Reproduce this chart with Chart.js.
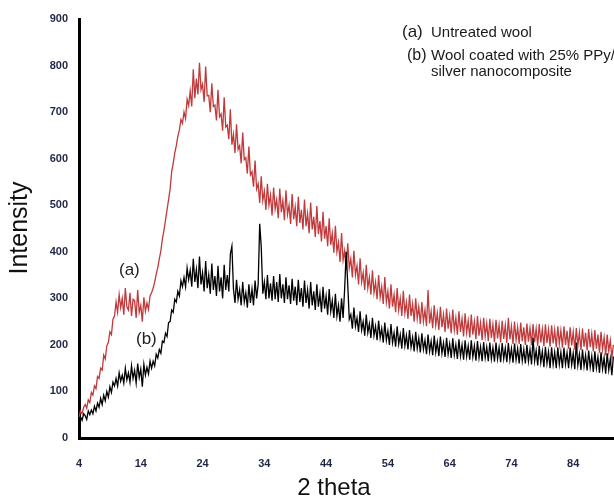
<!DOCTYPE html>
<html>
<head>
<meta charset="utf-8">
<script src="https://cdn.jsdelivr.net/npm/chart.js@4/dist/chart.umd.min.js"></script>
<style>
html,body{margin:0;padding:0;background:#fff;}
canvas{display:block;}
</style>
</head>
<body>
<canvas id="c" width="614" height="499"></canvas>
<script>
// 2 theta positions (degrees)
const theta = [
4,4.25,4.5,4.75, 5,5.25,5.5,5.75, 6,6.25,6.5,6.75, 7,7.25,7.5,7.75, 8,8.25,8.5,8.75, 9,9.25,9.5,9.75,
10,10.25,10.5,10.75, 11,11.25,11.5,11.75, 12,12.25,12.5,12.75, 13,13.25,13.5,13.75, 14,14.25,14.5,14.75,
15,15.25,15.5,15.75, 16,16.25,16.5,16.75, 17,17.25,17.5,17.75, 18,18.25,18.5,18.75, 19,19.25,19.5,19.75,
20,20.25,20.5,20.75, 21,21.25,21.5,21.75, 22,22.25,22.5,22.75, 23,23.25,23.5,23.75, 24,24.25,24.5,24.75,
25,25.25,25.5,25.75, 26,26.25,26.5,26.75, 27,27.25,27.5,27.75, 28,28.25,28.5,28.75, 29,29.25,29.5,29.75,
30,30.25,30.5,30.75, 31,31.25,31.5,31.75, 32,32.25,32.5,32.75, 33,33.25,33.5,33.75, 34,34.25,34.5,34.75,
35,35.25,35.5,35.75, 36,36.25,36.5,36.75, 37,37.25,37.5,37.75, 38,38.25,38.5,38.75, 39,39.25,39.5,39.75,
40,40.25,40.5,40.75, 41,41.25,41.5,41.75, 42,42.25,42.5,42.75, 43,43.25,43.5,43.75, 44,44.25,44.5,44.75,
45,45.25,45.5,45.75, 46,46.25,46.5,46.75, 47,47.25,47.5,47.75, 48,48.25,48.5,48.75, 49,49.25,49.5,49.75,
50,50.25,50.5,50.75, 51,51.25,51.5,51.75, 52,52.25,52.5,52.75, 53,53.25,53.5,53.75, 54,54.25,54.5,54.75,
55,55.25,55.5,55.75, 56,56.25,56.5,56.75, 57,57.25,57.5,57.75, 58,58.25,58.5,58.75, 59,59.25,59.5,59.75,
60,60.25,60.5,60.75, 61,61.25,61.5,61.75, 62,62.25,62.5,62.75, 63,63.25,63.5,63.75, 64,64.25,64.5,64.75,
65,65.25,65.5,65.75, 66,66.25,66.5,66.75, 67,67.25,67.5,67.75, 68,68.25,68.5,68.75, 69,69.25,69.5,69.75,
70,70.25,70.5,70.75, 71,71.25,71.5,71.75, 72,72.25,72.5,72.75, 73,73.25,73.5,73.75, 74,74.25,74.5,74.75,
75,75.25,75.5,75.75, 76,76.25,76.5,76.75, 77,77.25,77.5,77.75, 78,78.25,78.5,78.75, 79,79.25,79.5,79.75,
80,80.25,80.5,80.75, 81,81.25,81.5,81.75, 82,82.25,82.5,82.75, 83,83.25,83.5,83.75, 84,84.25,84.5,84.75,
85,85.25,85.5,85.75, 86,86.25,86.5,86.75, 87,87.25,87.5,87.75, 88,88.25,88.5,88.75, 89,89.25,89.5,89.75,
90,90.25,90.5
];

// (a) Untreated wool
const untreated = [
45,58,52,66, 72,64,82,76, 98,92,112,106, 132,128,150,146, 178,170,198,205, 228,222,255,262,
292,270,308,280, 300,265,322,282, 275,312,262,298, 295,258,318,270, 285,250,302,272,
290,276,305,312, 322,335,352,366, 385,402,428,446, 468,490,512,535, 572,590,612,628,
648,662,684,676, 700,686,728,714, 745,712,792,730, 772,738,806,748, 760,722,798,735,
736,700,762,712, 715,682,748,690, 696,660,732,668, 672,642,706,630, 652,612,674,620,
628,590,656,598, 602,568,626,565, 572,540,596,535, 546,505,562,510, 530,490,546,500,
522,478,538,492, 512,472,536,485, 510,468,532,480, 500,460,524,470, 496,455,518,462,
490,448,512,455, 482,440,506,448, 475,432,498,438, 466,422,486,428, 455,412,472,415,
440,398,456,400, 420,378,440,382, 402,360,418,365, 385,345,402,350, 370,330,386,335,
355,318,372,322, 345,308,360,312, 335,298,350,302, 325,288,346,292, 315,278,330,282,
308,270,322,275, 300,262,316,268, 292,256,308,262, 288,250,300,256, 282,245,292,250,
275,240,318,246, 272,236,285,242, 268,232,282,238, 265,228,278,235, 262,225,276,232,
258,222,272,228, 256,218,268,226, 252,216,265,222, 250,212,262,220, 248,210,258,218,
246,208,256,215, 244,206,254,214, 243,205,252,213, 242,204,258,212, 240,202,250,210,
238,202,248,208, 238,200,246,207, 236,200,245,206, 235,198,245,205, 234,197,244,204,
233,196,242,203, 232,195,240,202, 231,194,240,200, 230,192,238,199, 228,190,236,198,
227,189,235,196, 226,188,234,195, 224,186,232,192, 222,183,228,190, 216,178,222,186,
210,172,200
];

// (b) Wool coated with 25% PPy/silver nanocomposite
const coated = [
30,45,38,52, 48,40,58,50, 60,52,68,58, 75,66,85,72, 92,80,100,88, 110,98,120,112,
128,112,140,122, 135,118,150,125, 140,120,155,128, 145,118,160,130, 148,110,158,135,
152,138,165,150, 165,155,180,172, 190,182,208,205, 225,218,248,250, 275,270,298,292,
315,305,338,325, 345,325,365,340, 360,325,385,335, 362,322,390,330, 355,315,380,322,
350,310,375,318, 348,305,370,315, 345,300,372,318, 350,315,395,412, 320,290,340,298,
318,285,335,292, 312,280,330,290, 320,285,338,300, 330,460,410,310, 335,298,350,300,
332,295,348,298, 335,292,352,300, 330,290,345,298, 328,288,342,295, 325,285,340,292,
322,282,338,290, 318,278,335,285, 315,275,330,282, 310,270,325,278, 305,265,320,272,
295,258,310,262, 285,250,300,258, 320,400,330,255, 265,235,280,240, 258,228,272,232,
250,220,265,226, 245,215,258,220, 240,210,252,215, 235,205,248,210, 230,200,245,205,
226,196,240,202, 222,192,236,198, 220,190,232,195, 216,186,228,192, 214,184,225,190,
210,180,222,186, 208,178,220,184, 206,176,218,182, 204,174,215,180, 202,172,214,178,
200,170,212,176, 200,168,210,175, 198,168,210,174, 198,166,208,172, 196,165,206,172,
195,165,205,170, 194,164,205,170, 194,163,204,170, 193,163,204,168, 192,162,203,168,
192,160,202,166, 190,160,200,165, 190,158,215,165, 188,156,198,162, 186,152,196,160,
185,150,195,158, 184,150,195,158, 184,150,194,158, 183,150,194,157, 182,148,205,156,
180,146,190,154, 178,145,188,152, 176,142,186,150, 174,140,184,148, 172,138,182,146,
170,135,175
];

const xTicks = [4, 14, 24, 34, 44, 54, 64, 74, 84];
const yTicks = [0, 100, 200, 300, 400, 500, 600, 700, 800, 900];

const toPts = (ys) => ys.map((y, i) => ({x: theta[i], y: y}));

const tickFont = {family: "'Liberation Sans', Arial, sans-serif", size: 11, weight: 'bold'};
const tickColor = '#1f2744';

const textPlugin = {
  id: 'texts',
  afterDraw(chart) {
    const ctx = chart.ctx;
    ctx.save();
    ctx.fillStyle = '#111';
    ctx.textBaseline = 'middle';
    ctx.textAlign = 'left';
    // Axis titles
    ctx.save();
    ctx.translate(20, 228);
    ctx.rotate(-Math.PI / 2);
    ctx.textAlign = 'center';
    ctx.font = "25px 'Liberation Sans', Arial, sans-serif";
    ctx.fillText('Intensity', 0, 0);
    ctx.restore();
    ctx.textAlign = 'center';
    ctx.font = "24px 'Liberation Sans', Arial, sans-serif";
    ctx.fillText('2 theta', 334, 488);
    // Legend block
    ctx.textAlign = 'left';
    ctx.fillStyle = '#1a1a1a';
    ctx.font = "17px 'Liberation Sans', Arial, sans-serif";
    ctx.fillText('(a)', 402, 32);
    ctx.font = "16px 'Liberation Sans', Arial, sans-serif";
    ctx.fillText('(b)', 407, 56);
    ctx.font = "15px 'Liberation Sans', Arial, sans-serif";
    ctx.fillText('Untreated wool', 431, 33);
    ctx.fillText('Wool coated with 25% PPy/', 431, 56);
    ctx.fillText('silver nanocomposite', 431, 72);
    // Curve labels
    ctx.font = "17px 'Liberation Sans', Arial, sans-serif";
    ctx.fillStyle = '#222';
    ctx.fillText('(a)', 119, 270);
    ctx.fillText('(b)', 136, 339);
    ctx.restore();
  }
};

new Chart(document.getElementById('c'), {
  type: 'line',
  data: {
    datasets: [
      {
        label: '(b) Wool coated with 25% PPy/silver nanocomposite',
        data: toPts(coated),
        borderColor: '#000000',
        borderWidth: 1.3,
        pointRadius: 0,
        tension: 0,
        order: 0
      },
      {
        label: '(a) Untreated wool',
        data: toPts(untreated),
        borderColor: '#c0393b',
        borderWidth: 1.3,
        pointRadius: 0,
        tension: 0,
        order: 1
      }
    ]
  },
  options: {
    responsive: false,
    animation: false,
    devicePixelRatio: 1,
    layout: {padding: {top: 19, right: 0, bottom: 0, left: 0}},
    plugins: {legend: {display: false}, tooltip: {enabled: false}},
    scales: {
      x: {
        type: 'linear',
        min: 4,
        max: 90.6,
        afterBuildTicks: (s) => { s.ticks = xTicks.map(v => ({value: v})); },
        afterFit: (s) => { s.height = 61; },
        grid: {display: false, drawTicks: false},
        border: {display: true, color: '#000', width: 3},
        ticks: {font: tickFont, color: tickColor, padding: 19, maxRotation: 0, autoSkip: false}
      },
      y: {
        min: 0,
        max: 900,
        afterBuildTicks: (s) => { s.ticks = yTicks.map(v => ({value: v})); },
        afterFit: (s) => { s.width = 79; },
        grid: {display: false, drawTicks: false},
        border: {display: true, color: '#000', width: 3},
        ticks: {font: tickFont, color: tickColor, padding: 11}
      }
    }
  },
  plugins: [textPlugin]
});
</script>
</body>
</html>
